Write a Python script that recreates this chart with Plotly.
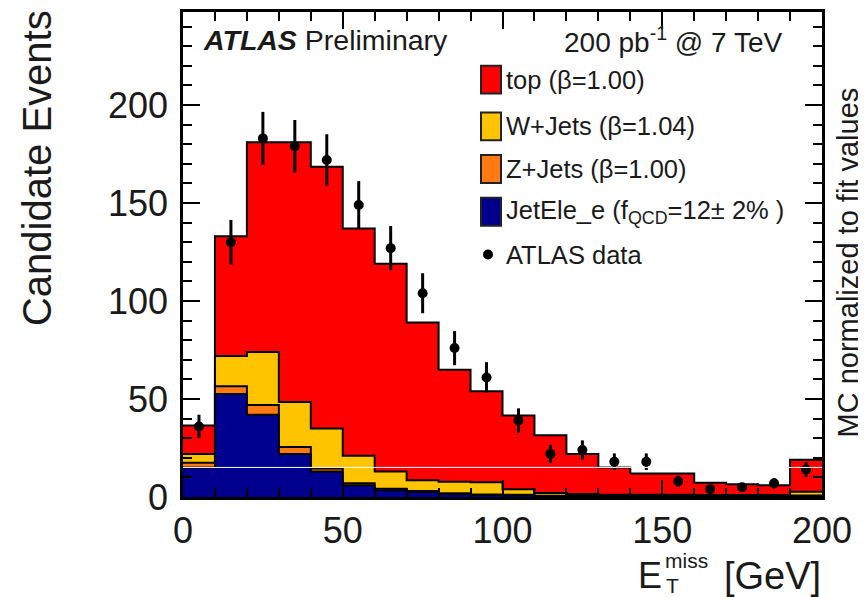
import numpy as np
import plotly.graph_objects as go

# ---------------- data ----------------
bin_edges = list(range(0, 210, 10))          # E_T^miss bins [GeV]
qcd_jetele = [15, 52.5, 42, 22, 13, 6, 3.5, 2.5, 1.5, 1.0, 0.8, 0.5, 0.4, 0.3, 0.3, 0.3, 0.2, 0.2, 0.2, 0.5]
z_jets     = [2.5, 4, 5, 3.5, 1.5, 1, 0.7, 0.5, 0.4, 0.3, 0.3, 0.2, 0.2, 0.2, 0.2, 0.2, 0.1, 0.1, 0.1, 0.3]
w_jets     = [4.5, 15.5, 27, 23, 20.5, 14, 8.8, 5.6, 5.9, 6.2, 2.9, 1.3, 0.9, 0.7, 0.7, 0.7, 0.7, 0.7, 0.7, 1.9]
top        = [14.5, 61, 107, 132.5, 133.5, 116, 106, 80.4, 57.2, 46.5, 37.6, 29.5, 20.5, 13.8, 10.8, 10.8, 6.3, 5.5, 5.0, 16.3]
data       = [36, 130, 183, 179, 172, 149, 127, 104, 76, 61, 39, 22, 24, 18, 18, 8, 4, 5, 7, 14]

y_ticks = [0, 50, 100, 150, 200]
x_ticks = [0, 50, 100, 150, 200]

# ---------------- geometry (pixels of the reference window) ----------------
OFF = 8                      # the page body adds an 8px margin
W, H = 866 - OFF, 597 - OFF
L, R, T, B = 183, 822, 9, 497
XMAX, YMAX = 200, 247.5

def px(xp):
    return (xp - L) / (R - L)

def py(yp):
    return (B - yp) / (B - T)

FONT = "Liberation Sans, Arial, Helvetica, sans-serif"

c_qcd = np.array(qcd_jetele)
c_z = c_qcd + np.array(z_jets)
c_w = c_z + np.array(w_jets)
c_top = c_w + np.array(top)

layers = [
    (c_top, "#FF0000", "top"),
    (c_w, "#FFC400", "W+Jets"),
    (c_z, "#FF7A10", "Z+Jets"),
    (c_qcd, "#00008F", "JetEle_e"),
]

fig = go.Figure()
for cum, col, name in layers:
    yv = list(cum) + [cum[-1]]
    fig.add_trace(go.Scatter(
        x=bin_edges, y=yv, mode="lines", line=dict(shape="hv", color="black", width=2),
        fill="tozeroy", fillcolor=col, name=name, showlegend=False, hoverinfo="skip"))

centers = [(a + b) / 2 for a, b in zip(bin_edges[:-1], bin_edges[1:])]
fig.add_trace(go.Scatter(
    x=centers, y=data, mode="markers",
    marker=dict(color="black", size=10, symbol="circle"),
    error_y=dict(type="data", array=list(np.sqrt(data)), color="black", thickness=3, width=0),
    showlegend=False, cliponaxis=False))

# small arrow on the y axis
fig.add_trace(go.Scatter(x=[-1.6], y=[117], mode="markers",
                         marker=dict(symbol="triangle-left", size=9, color="black"),
                         showlegend=False, cliponaxis=False, hoverinfo="skip"))

# thin white artefact line
fig.add_shape(type="line", x0=0, x1=XMAX, y0=15.1, y1=15.1, xref="x", yref="y",
              line=dict(color="white", width=1), layer="above")

axis_common = dict(showline=True, linecolor="black", linewidth=2.5, mirror="allticks",
                   ticks="inside", ticklen=17, tickwidth=2, tickcolor="black",
                   showgrid=False, zeroline=False,
                   tickfont=dict(family=FONT, size=36, color="#1a1a1a"))

fig.update_xaxes(range=[0, XMAX], tickvals=x_ticks, ticktext=[str(v) for v in x_ticks],
                 minor=dict(ticks="inside", ticklen=9, tickwidth=2, tickcolor="black", dtick=10, tick0=0),
                 **axis_common)
fig.update_yaxes(range=[0, YMAX], tickvals=y_ticks, ticktext=[str(v) for v in y_ticks],
                 minor=dict(ticks="inside", ticklen=9, tickwidth=2, tickcolor="black", dtick=10, tick0=0),
                 ticklabelstandoff=5, **axis_common)

ann = []
def text(x, y, s, size, xa="left", ya="middle", angle=0, color="#1a1a1a"):
    ann.append(dict(x=px(x), y=py(y), xref="paper", yref="paper", text=s, showarrow=False,
                    xanchor=xa, yanchor=ya, textangle=angle,
                    font=dict(family=FONT, size=size, color=color)))

text(201, 37, "<b><i>ATLAS</i></b> Preliminary", 28.5)
text(784, 37, "200 pb<sup>-1</sup> @ 7 TeV", 28)

# legend
leg_rows = [("#FF0000", "top (β=1.00)", 77),
            ("#FFC400", "W+Jets (β=1.04)", 124),
            ("#FF7A10", "Z+Jets (β=1.00)", 167),
            ("#00008F", "JetEle_e (f<sub>QCD</sub>=12± 2% )", 210)]
for col, lab, yc in leg_rows:
    fig.add_shape(type="rect", xref="paper", yref="paper",
                  x0=px(481), x1=px(501), y0=py(yc + 14), y1=py(yc - 14),
                  fillcolor=col, line=dict(color="#222", width=2))
    text(504, yc, lab, 25.5)
fig.add_trace(go.Scatter(x=[(488 - L) / (R - L) * XMAX], y=[(B - 253) / (B - T) * YMAX],
                         mode="markers", marker=dict(color="black", size=10),
                         showlegend=False, cliponaxis=False, hoverinfo="skip"))
text(504, 253, "ATLAS data", 25.5)

# axis titles
text(37, 166, "Candidate Events", 40, xa="center", angle=-90)
text(848, 261, "MC normalized to fit values", 29, xa="center", angle=-90)
text(664, 576, "E", 36, xa="right")
text(663, 561, "miss", 21)
text(664, 586, "T", 21)
text(823, 576, "[GeV]", 38, xa="right")

# fix right anchoring of the luminosity label
ann[1]["xanchor"] = "right"

fig.update_layout(width=W, height=H,
                  margin=dict(l=L - OFF, r=866 - R, t=T - OFF, b=597 - B, pad=0),
                  paper_bgcolor="white", plot_bgcolor="white", annotations=ann,
                  font=dict(family=FONT), showlegend=False)

fig.write_html("out.html")
